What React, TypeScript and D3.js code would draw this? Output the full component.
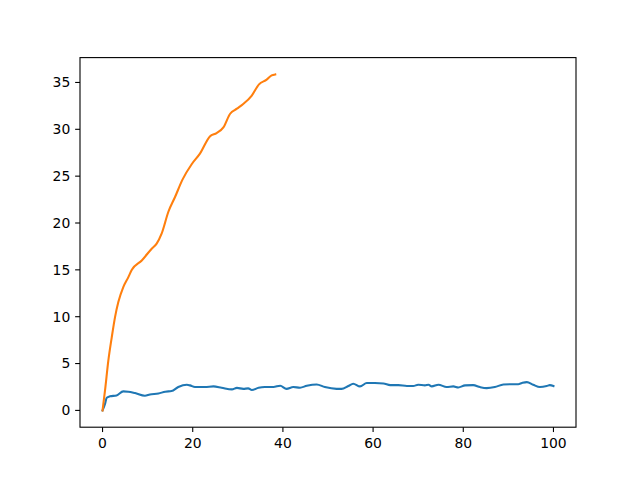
import React from "react";
import * as d3 from "d3";

const blueX = [0, 0.55, 0.93, 1.66, 3.1, 4.6, 5.7, 7.2, 9.4, 10.5, 12.4, 13.9, 15.3, 16.8, 18.7, 19.4, 20.5, 22.7, 24.6, 26.4, 28.7, 29.8, 31.2, 32.3, 33.1, 34.6, 36.0, 37.9, 39.4, 40.8, 42.3, 43.8, 45.3, 47.5, 49.3, 51.9, 53.0, 54.5, 55.6, 57.1, 58.6, 60.4, 62.3, 63.8, 65.6, 67.5, 68.9, 70.0, 71.5, 72.3, 73.0, 74.5, 76.3, 77.8, 78.9, 80.4, 82.2, 83.7, 85.2, 87.0, 88.9, 90.8, 92.2, 93.0, 94.1, 95.5, 97.0, 98.5, 99.2, 100];
const blueY = [0, 0.7, 1.35, 1.5, 1.6, 2.03, 2.0, 1.85, 1.57, 1.7, 1.8, 2.0, 2.06, 2.5, 2.74, 2.67, 2.5, 2.5, 2.56, 2.42, 2.24, 2.4, 2.3, 2.35, 2.17, 2.42, 2.5, 2.5, 2.63, 2.3, 2.49, 2.42, 2.63, 2.77, 2.49, 2.3, 2.3, 2.6, 2.85, 2.56, 2.92, 2.92, 2.88, 2.7, 2.7, 2.6, 2.6, 2.74, 2.67, 2.74, 2.56, 2.74, 2.49, 2.56, 2.45, 2.67, 2.7, 2.49, 2.38, 2.49, 2.77, 2.8, 2.8, 2.92, 3.02, 2.74, 2.49, 2.6, 2.7, 2.6];

const orangeX = [0, 0.55, 1.29, 2.04, 2.77, 3.5, 4.6, 5.7, 6.5, 8.7, 10.9, 12.0, 13.1, 14.6, 16.1, 17.7, 19.8, 21.6, 23.8, 25.3, 26.8, 28.3, 29.8, 31.2, 33.1, 34.7, 36.4, 37.5, 38.3];
const orangeY = [0, 2.13, 5.34, 7.8, 9.96, 11.56, 13.16, 14.2, 15.0, 16.0, 17.26, 17.8, 18.86, 21.2, 22.8, 24.6, 26.3, 27.4, 29.24, 29.6, 30.2, 31.66, 32.2, 32.7, 33.6, 34.8, 35.3, 35.75, 35.86];

const xTicks = [0, 20, 40, 60, 80, 100];
const yTicks = [0, 5, 10, 15, 20, 25, 30, 35];

const W = 640, H = 480;
const L = 80, R = 576, T = 57.6, B = 427.2;

export default function App() {
  const x = d3.scaleLinear().domain([-5, 105]).range([L, R]);
  const y = d3.scaleLinear().domain([-1.793, 37.653]).range([B, T]);
  const line = d3.line<[number, number]>().x(d => x(d[0])).y(d => y(d[1])).curve(d3.curveMonotoneX);
  const blue = blueX.map((v, i) => [v, blueY[i]] as [number, number]);
  const orange = orangeX.map((v, i) => [v, orangeY[i]] as [number, number]);
  const font = "DejaVu Sans, sans-serif";
  return (
    <svg width={W} height={H} style={{ position: "absolute", left: 0, top: 0, background: "#fff" }}>
      <rect x={0} y={0} width={W} height={H} fill="#fff" />
      <path d={line(blue) || ""} fill="none" stroke="#1f77b4" strokeWidth={2.08} strokeLinejoin="round" strokeLinecap="square" />
      <path d={line(orange) || ""} fill="none" stroke="#ff7f0e" strokeWidth={2.08} strokeLinejoin="round" strokeLinecap="square" />
      <rect x={L} y={T} width={R - L} height={B - T} fill="none" stroke="#000" strokeWidth={1.1} />
      {xTicks.map(t => (
        <g key={"x" + t}>
          <line x1={x(t)} x2={x(t)} y1={B} y2={B + 4.86} stroke="#000" strokeWidth={1.1} />
          <text x={x(t)} y={B + 9.7 + 11} textAnchor="middle" fontFamily={font} fontSize={13.9} fill="#000">{t}</text>
        </g>
      ))}
      {yTicks.map(t => (
        <g key={"y" + t}>
          <line x1={L} x2={L - 4.86} y1={y(t)} y2={y(t)} stroke="#000" strokeWidth={1.1} />
          <text x={L - 9.7} y={y(t)} dy="0.35em" textAnchor="end" fontFamily={font} fontSize={13.9} fill="#000">{t}</text>
        </g>
      ))}
    </svg>
  );
}
